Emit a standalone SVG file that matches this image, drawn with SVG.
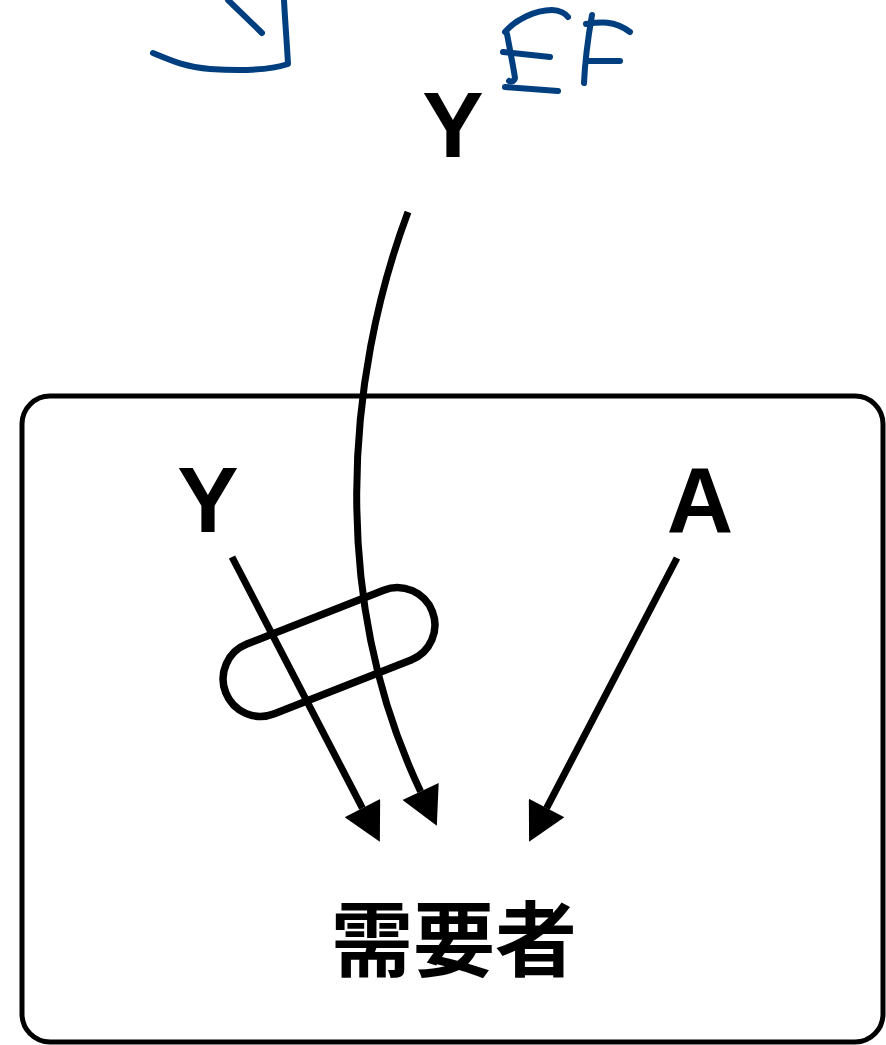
<svg xmlns="http://www.w3.org/2000/svg" width="886" height="1045" viewBox="0 0 886 1045">
<style>
.lbl{font-family:"Liberation Sans",Arial,sans-serif;font-weight:bold;font-size:92px;fill:#000;text-anchor:middle}
.cjk{font-family:"Noto Sans CJK JP","Noto Sans CJK SC",sans-serif;font-weight:bold;font-size:82px;fill:#000;text-anchor:middle}
.edge{fill:none;stroke:#000;stroke-width:7}
.ink{fill:none;stroke:#003f7f;stroke-width:6;stroke-linecap:round;stroke-linejoin:round}
</style>
<defs>
<marker id="ah" markerUnits="userSpaceOnUse" markerWidth="40" markerHeight="40" viewBox="0 0 36 38" refX="0" refY="19" orient="auto">
<path d="M0,0 L36,19 L0,38 Z" fill="#000"/>
</marker>
</defs>
<rect width="886" height="1045" fill="#fff"/>
<g id="frame">
<rect x="22" y="396" width="861" height="646" rx="28" fill="none" stroke="#000" stroke-width="5"/>
</g>
<g id="annotation">
<path class="ink" d="M228,0 L262,33"/>
<path class="ink" d="M284,0 C285,20 287,45 288,64 C270,70 240,71 210,69 C185,67 170,60 153,53"/>
<path class="ink" d="M505,32 C515,20 535,10 552,10 C560,10 566,14 568,17"/>
<path class="ink" d="M507,34 C510,50 513,65 515,78 C514,82 510,82 509,81"/>
<path class="ink" d="M503,52 L550,57"/>
<path class="ink" d="M505,87 L558,91"/>
<path class="ink" d="M592,15 C588,38 585,60 584,83"/>
<path class="ink" d="M586,24 C600,22 614,20 630,32"/>
<path class="ink" d="M587,61 L620,61"/>
</g>
<g id="node-yef"><text class="lbl" x="453" y="157">Y</text></g>
<g id="node-y"><text class="lbl" x="208" y="532">Y</text></g>
<g id="node-a"><text class="lbl" x="700" y="532">A</text></g>
<g id="node-demand"><text class="cjk" x="454" y="970">需要者</text></g>
<g id="connectors">
<path class="edge" d="M232,557 L362.4,808.1" marker-end="url(#ah)"/>
<path class="edge" d="M408,212 C345,380 330,600 420.6,791.5" marker-end="url(#ah)"/>
<path class="edge" d="M677,558 L546.6,808.1" marker-end="url(#ah)"/>
</g>
<g id="interaction">
<rect x="-111" y="-37.5" width="222" height="75" rx="37.5" fill="none" stroke="#000" stroke-width="7.5" transform="translate(329,652) rotate(-21.5)"/>
</g>
</svg>
